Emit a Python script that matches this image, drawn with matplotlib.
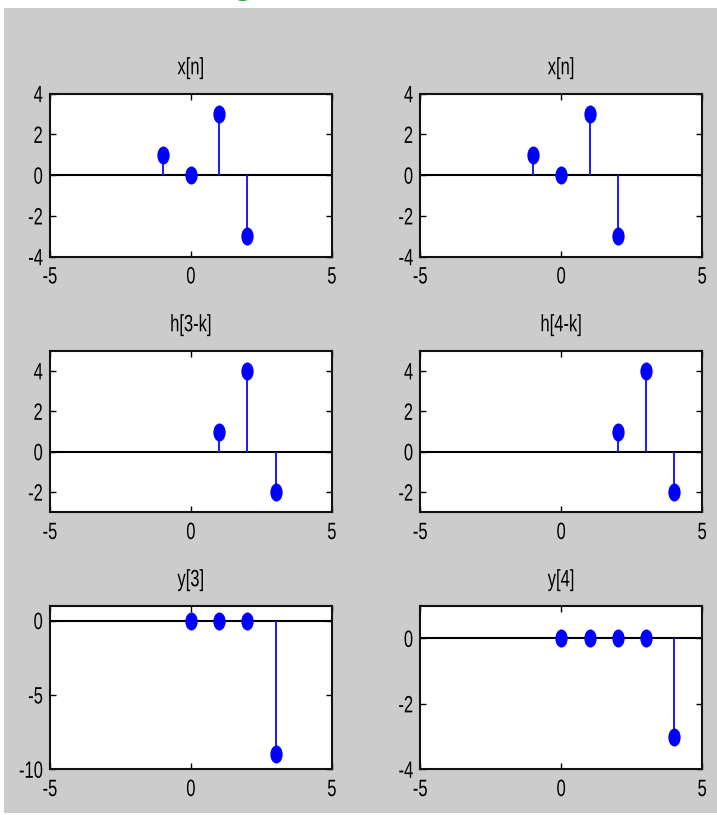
import matplotlib
matplotlib.use("Agg")
import matplotlib.pyplot as plt
from matplotlib.path import Path
from matplotlib.patches import Rectangle
from matplotlib.patheffects import AbstractPathEffect
from matplotlib.transforms import Affine2D
import numpy as np

plt.rcParams['font.family'] = ['Liberation Sans', 'DejaVu Sans']
plt.rcParams['axes.unicode_minus'] = False

# Data
x_n = [-1, 0, 1, 2]
x_vals = [1, 0, 3, -3]
h3_k = [1, 2, 3]
h3_vals = [1, 4, -2]
h4_k = [2, 3, 4]
h4_vals = [1, 4, -2]
y3_k = [0, 1, 2, 3]
y3_vals = [0, 0, 0, -9]
y4_k = [0, 1, 2, 3, 4]
y4_vals = [0, 0, 0, 0, -3]

titles = ['x[n]', 'x[n]', 'h[3-k]', 'h[4-k]', 'y[3]', 'y[4]']
ylims = [(-4, 4), (-4, 4), (-3, 5), (-3, 5), (-10, 1), (-4, 1)]
yticks = [[-4, -2, 0, 2, 4], [-4, -2, 0, 2, 4], [-2, 0, 2, 4], [-2, 0, 2, 4],
          [-10, -5, 0], [-4, -2, 0]]
xticks = [-5, 0, 5]
series = [(x_n, x_vals), (x_n, x_vals), (h3_k, h3_vals), (h4_k, h4_vals),
          (y3_k, y3_vals), (y4_k, y4_vals)]


class HScale(AbstractPathEffect):
    """Horizontally condense a text path around a pivot (tall narrow look)."""
    def __init__(self, sx=0.7, mode='center'):
        super().__init__()
        self.sx = sx
        self.mode = mode

    def draw_path(self, renderer, gc, tpath, affine, rgbFace=None):
        v = tpath.vertices
        if len(v):
            xmin, xmax = v[:, 0].min(), v[:, 0].max()
        else:
            xmin = xmax = 0
        if self.mode == 'center':
            p = 0.5 * (xmin + xmax)
        elif self.mode == 'right':
            p = xmax
        else:
            p = xmin
        t = Affine2D().translate(-p, 0).scale(self.sx, 1).translate(p, 0)
        renderer.draw_path(gc, tpath, t + affine, rgbFace)


SX = 0.7
FS = 17

W, H = 717, 815
fig = plt.figure(figsize=(W / 100, H / 100), dpi=100)
fig.patch.set_facecolor('white')
fig.patches.append(Rectangle((4 / W, 1 - 813 / H), 713 / W, (813 - 8) / H,
                             transform=fig.transFigure, facecolor='#cccccc',
                             edgecolor='none', zorder=-10))
fig.text(243 / W, 1 + 7 / H, 'g', color='#19a84a', fontsize=26, fontweight='bold',
         ha='center', va='baseline', family=['Liberation Sans', 'DejaVu Sans'],
         zorder=-5)

circ = Path.unit_circle()
ell = Path(circ.vertices * np.array([0.68, 1.0]), circ.codes)

lefts = [50, 420.3]
rows = [(93.7, 256.7), (350.7, 512.3), (605.7, 769.3)]
for i in range(6):
    r, c = divmod(i, 2)
    l = lefts[c]
    w = 282
    top, bot = rows[r]
    ax = fig.add_axes([l / W, 1 - bot / H, w / W, (bot - top) / H])
    ax.set_facecolor('white')
    xs, ys = series[i]
    ml, sl, bl = ax.stem(xs, ys, linefmt='-', markerfmt='o', basefmt=' ')
    plt.setp(sl, color='#1a1aff', linewidth=1.4)
    ml.set_marker(ell)
    ml.set_markersize(13)
    ml.set_color('#0000ff')
    ml.set_markeredgewidth(0)
    ax.axhline(0, color='black', linewidth=1.5, zorder=1)
    ax.set_xlim(-5, 5)
    ax.set_ylim(*ylims[i])
    ax.set_xticks(xticks)
    ax.set_yticks(yticks[i])
    ax.tick_params(direction='in', top=True, right=True, length=4, width=1,
                   labelsize=FS, colors='black')
    ax.tick_params(axis='x', pad=7)
    ax.tick_params(axis='y', pad=5)
    for lab in ax.get_xticklabels():
        lab.set_path_effects([HScale(SX, 'center')])
    for lab in ax.get_yticklabels():
        lab.set_path_effects([HScale(SX, 'right')])
    for s in ax.spines.values():
        s.set_linewidth(1.5)
        s.set_color('#111111')
    t = ax.set_title(titles[i], fontsize=FS, pad=14)
    t.set_path_effects([HScale(SX, 'center')])

fig.savefig('out.png', dpi=100)
